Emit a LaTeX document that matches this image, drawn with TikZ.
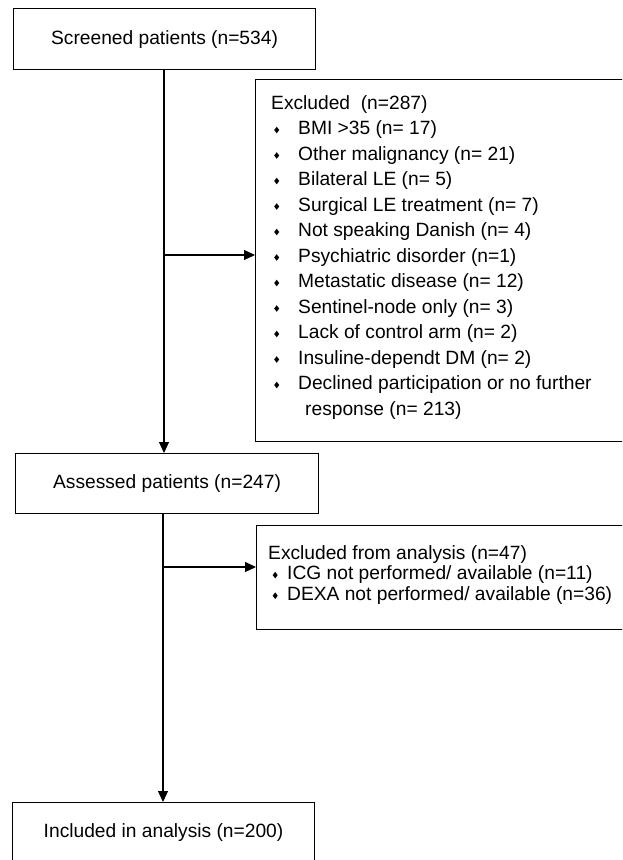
\documentclass[tikz,border=0pt]{standalone}
\usepackage{fontspec}
\setmainfont{Liberation Sans}
\usetikzlibrary{arrows.meta}
\newcommand\dmd{\tikz[baseline=0pt]\fill (0pt,4.5pt)--(2.5pt,7.8pt)--(5pt,4.5pt)--(2.5pt,1.2pt)--cycle;}
\newcommand\bi{\makebox[27pt][l]{\hspace*{3pt}\dmd}}
\newcommand\bii{\makebox[19pt][l]{\hspace*{4.5pt}\dmd}}
\begin{document}
\begin{tikzpicture}[x=1pt,y=-1pt,
  box/.style={draw,line width=1.1pt,inner sep=0pt,anchor=north west,font=\fontsize{19.2}{23}\selectfont},
  txta/.style={inner sep=0pt,anchor=base west,font=\fontsize{19.2}{25.5}\selectfont},
  txtb/.style={inner sep=0pt,anchor=base west,font=\fontsize{19.2}{20.6}\selectfont},
  arr/.style={-{Triangle[length=11pt,width=10pt]},line width=1.1pt}]
\path[use as bounding box] (0,0) rectangle (622,860);
\clip (0,0) rectangle (622,860);
\node[box,minimum width=302pt,minimum height=61pt] (s) at (13,8) {Screened patients (n=534)};
\node[box,minimum width=400pt,minimum height=362pt] (ex1) at (255,79) {};
\node[txta] (ex1t) at (271,109) {\begin{tabular}[t]{@{}l@{}}
Excluded\ \ (n=287)\\
\bi BMI >35 (n= 17)\\
\bi Other malignancy (n= 21)\\
\bi Bilateral LE (n= 5)\\
\bi Surgical LE treatment (n= 7)\\
\bi Not speaking Danish (n= 4)\\
\bi Psychiatric disorder (n=1)\\
\bi Metastatic disease (n= 12)\\
\bi Sentinel-node only (n= 3)\\
\bi Lack of control arm (n= 2)\\
\bi Insuline-dependt DM (n= 2)\\
\bi Declined participation or no further\\
\hspace*{34pt}response (n= 213)
\end{tabular}};
\node[box,minimum width=303pt,minimum height=60pt] (a) at (15,453) {Assessed patients (n=247)};
\node[box,minimum width=400pt,minimum height=104pt] (ex2) at (256,525) {};
\node[txtb] (ex2t) at (268,559) {\begin{tabular}[t]{@{}l@{}}
Excluded from analysis (n=47)\\
\bii ICG not performed/ available (n=11)\\
\bii DEXA not performed/ available (n=36)
\end{tabular}};
\node[box,minimum width=302pt,minimum height=60pt] (inc) at (12,802) {Included in analysis (n=200)};
\coordinate (b1) at (164,255);
\coordinate (b2) at (163,567);
\draw[arr] (s.south -| b1) -- (a.north -| b1);
\draw[arr] (b1) -- (ex1.west |- b1);
\draw[arr] (a.south -| b2) -- (inc.north -| b2);
\draw[arr] (b2) -- (ex2.west |- b2);
\end{tikzpicture}
\end{document}
